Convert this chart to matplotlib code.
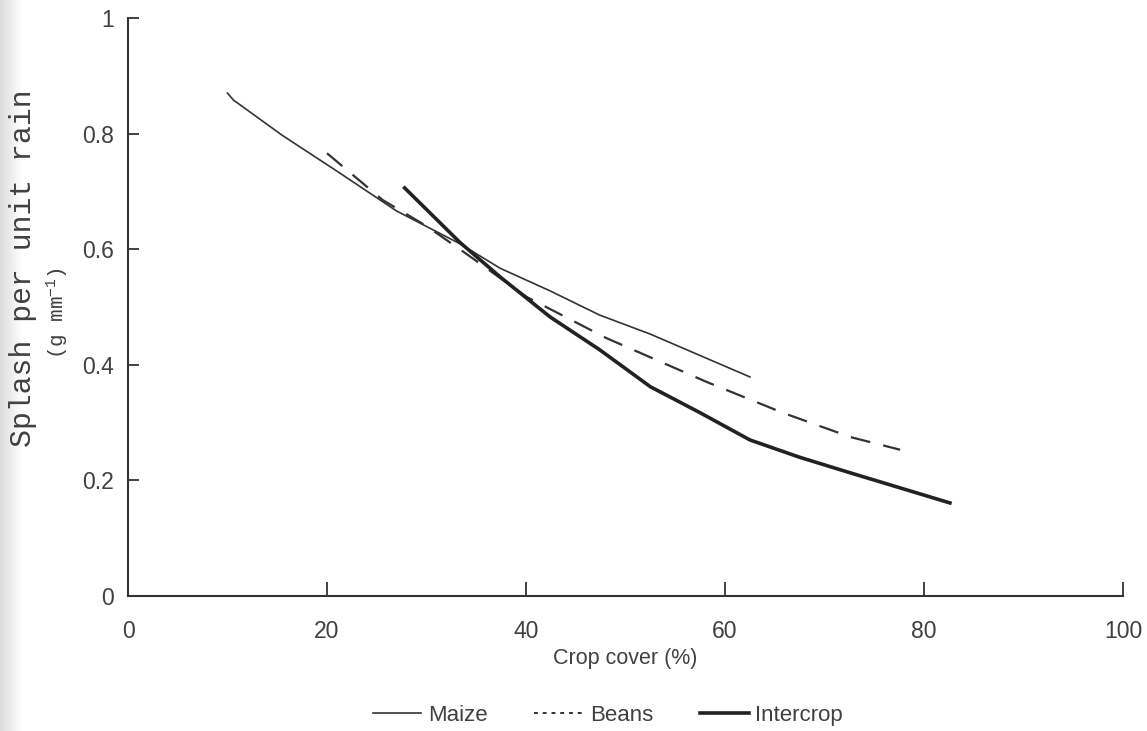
import numpy as np
import matplotlib
matplotlib.use("Agg")
import matplotlib.pyplot as plt

# values
maize_x = [10, 10.6, 15.5, 21, 27, 33.4, 37.4, 42.4, 47.4, 52.5, 57.5, 62.5]
maize_y = [0.870, 0.858, 0.797, 0.735, 0.666, 0.609, 0.567, 0.528, 0.486, 0.453, 0.416, 0.379]

beans_x = [20, 25.6, 30, 34, 40.1, 48.1, 58.2, 65.8, 72.6, 77.6]
beans_y = [0.766, 0.685, 0.640, 0.592, 0.517, 0.446, 0.370, 0.317, 0.275, 0.253]

inter_x = [27.8, 33.4, 37.4, 42.4, 47.4, 52.5, 57.5, 62.5, 67.5, 72.6, 77.6, 82.6]
inter_y = [0.706, 0.611, 0.552, 0.483, 0.426, 0.362, 0.317, 0.270, 0.240, 0.213, 0.187, 0.161]

x_ticks = [0, 20, 40, 60, 80, 100]
y_ticks = [0, 0.2, 0.4, 0.6, 0.8, 1]
y_labels = ["0", "0.2", "0.4", "0.6", "0.8", "1"]

INK = "#333333"
TXT = "#404040"
SANS = ["Liberation Sans", "DejaVu Sans"]
MONO = ["Liberation Mono", "DejaVu Sans Mono"]

plt.rcParams["font.family"] = SANS
plt.rcParams["mathtext.default"] = "regular"

fig = plt.figure(figsize=(11.47, 7.31), dpi=100)

# slight scan shadow on the left edge
shade = fig.add_axes([0, 0, 0.02, 1])
shade.imshow(np.linspace(0.86, 1.0, 50)[None, :], cmap="gray", vmin=0, vmax=1,
             aspect="auto", extent=[0, 1, 0, 1])
shade.axis("off")

ax = fig.add_axes([0.1116, 0.1847, 0.8675, 0.7907])
ax.plot(maize_x, maize_y, color=INK, lw=1.2, label="Maize")
ax.plot(beans_x, beans_y, color=INK, lw=1.6, linestyle=(0, (9, 6)), label="Beans")
ax.plot(inter_x, inter_y, color="#222222", lw=2.6, label="Intercrop")

ax.set_xlim(0, 100)
ax.set_ylim(0, 1)
ax.set_xticks(x_ticks)
ax.set_yticks(y_ticks)
ax.set_yticklabels(y_labels)
for s in ["top", "right"]:
    ax.spines[s].set_visible(False)
for s in ["left", "bottom"]:
    ax.spines[s].set_color(INK)
    ax.spines[s].set_linewidth(1.5)
ax.tick_params(axis="x", direction="in", length=10, width=1.3, color=INK,
               labelsize=16.5, labelcolor=TXT, pad=17)
ax.tick_params(axis="y", direction="in", length=8, width=1.3, color=INK,
               labelsize=16.5, labelcolor=TXT, pad=10)
ax.set_xlabel("Crop cover (%)", fontsize=15.5, color=TXT, labelpad=4)

fig.text(0.020, 0.633, "Splash per unit rain", rotation=90, ha="center", va="center",
         family=MONO, fontsize=21.5, color=TXT)
fig.text(0.050, 0.572, "(g mm$^{-1}$)", rotation=90, ha="center", va="center",
         family=MONO, fontsize=15, color=TXT)

handles, labels = ax.get_legend_handles_labels()
handles[1] = plt.Line2D([], [], color=INK, lw=1.4, linestyle=(0, (2, 2.5)))
fig.legend(handles, labels, loc="lower center", bbox_to_anchor=(0.53, -0.02), ncol=3,
           frameon=False, fontsize=16, handlelength=2.2, columnspacing=2.1,
           handletextpad=0.3, labelcolor=TXT)

fig.savefig("out.png", dpi=100)
